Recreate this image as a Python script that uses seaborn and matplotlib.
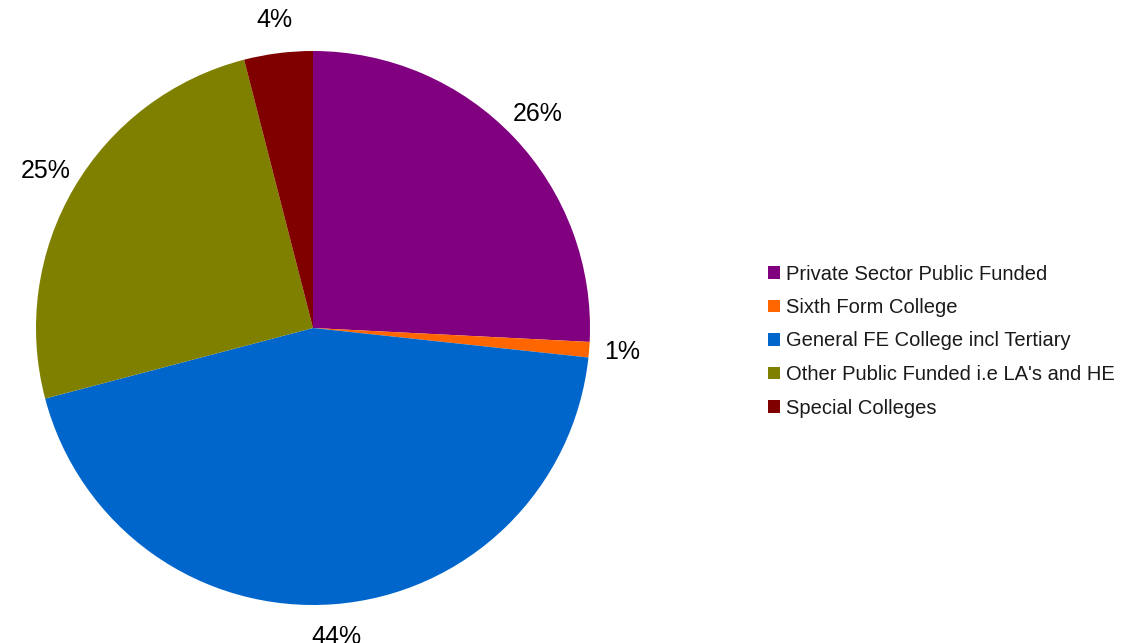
import matplotlib
matplotlib.use('Agg')
import matplotlib.pyplot as plt
import seaborn as sns

# ------------------- Data -------------------
categories = ['Private Sector Public Funded', 'Sixth Form College',
              'General FE College incl Tertiary', "Other Public Funded i.e LA's and HE",
              'Special Colleges']
shares = [25.8, 0.9, 44.2, 25.1, 4.0]
colors = ['#800080', '#ff6600', '#0066cc', '#808000', '#800000']

# ------------------- Style -------------------
sns.set_theme(style='white')
plt.rcParams['font.family'] = ['Liberation Sans', 'DejaVu Sans']

fig = plt.figure(figsize=(11.34, 6.43), dpi=100)
ax = fig.add_axes([36 / 1134, (643 - 605) / 643, 554 / 1134, 554 / 643])

wedges, texts, autotexts = ax.pie(
    shares, colors=colors, startangle=90, counterclock=False,
    autopct=lambda p: f'{p:.0f}%', pctdistance=1.12, radius=1,
    wedgeprops=dict(linewidth=0), textprops=dict(fontsize=18, color='black'))
ax.set_xlim(-1, 1)
ax.set_ylim(-1, 1)
ax.set_aspect('equal')
ax.axis('off')

fig.legend(wedges, categories, loc='center left', bbox_to_anchor=(750 / 1134, 1 - 341 / 643),
           frameon=False, fontsize=14.5, handlelength=0.6, handleheight=0.6,
           handletextpad=0.3, labelspacing=0.72, labelcolor='#1a1a1a')

fig.savefig('out.png', dpi=100)
